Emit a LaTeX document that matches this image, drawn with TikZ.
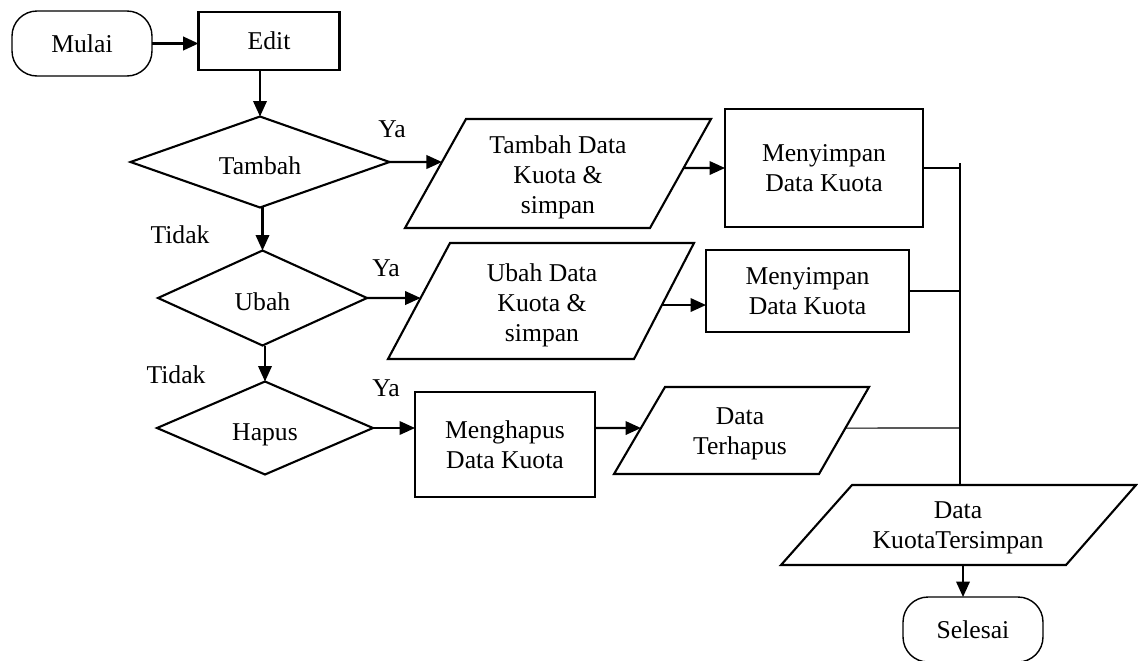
\documentclass[tikz,border=0pt]{standalone}
\usepackage{fontspec}
\setmainfont{Liberation Serif}
\usetikzlibrary{shapes.geometric,arrows.meta,calc}

\begin{document}
\begin{tikzpicture}[x=0.02cm,y=-0.02cm,
  font=\fontsize{14.6pt}{17pt}\selectfont,
  every node/.style={inner sep=0pt, outer sep=0pt},
  terminal/.style={draw, line width=0.8pt, rounded corners=0.5cm,
    minimum width=2.8cm, minimum height=1.3cm},
  procbox/.style={draw, line width=1.25pt, align=center},
  decision/.style={draw, diamond, aspect=2.5, line width=1.2pt, text height=0.5cm, text depth=0pt},
  txt/.style={align=center},
  iobox/.style={draw, line width=1.2pt, line join=miter},
  arr/.style={line width=1.2pt, -{Triangle[length=0.31cm,width=0.27cm]}},
  bus/.style={line width=0.6pt},
  lbl/.style={}
]
\path[use as bounding box, fill=white] (0,0) rectangle (1138,660);

% start, edit and the three decisions
\node[terminal] (mulai) at (82,43.5) {Mulai};
\node[procbox, minimum width=2.82cm, minimum height=1.16cm] (edit) at (269,41) {Edit};
\node[decision, minimum width=5.18cm, minimum height=1.82cm] (tambah) at (260,162) {Tambah};
\node[decision, minimum width=4.18cm, minimum height=1.9cm] (ubah) at (262.5,298) {Ubah};
\node[decision, minimum width=4.32cm, minimum height=1.86cm] (hapus) at (265,428) {Hapus};

% input/output parallelograms
\coordinate (td-tl) at (466,119); \coordinate (td-tr) at (711,119);
\coordinate (td-br) at (650,228); \coordinate (td-bl) at (405,228);
\draw[iobox] (td-tl) -- (td-tr) -- (td-br) -- (td-bl) -- cycle;
\node[txt] (tdata) at (558,177) {Tambah Data\\Kuota \&\\simpan};

\coordinate (ud-tl) at (450,243); \coordinate (ud-tr) at (694,243);
\coordinate (ud-br) at (634,359); \coordinate (ud-bl) at (388,359);
\draw[iobox] (ud-tl) -- (ud-tr) -- (ud-br) -- (ud-bl) -- cycle;
\node[txt] (udata) at (542,305) {Ubah Data\\Kuota \&\\simpan};

\coordinate (dt-tl) at (665,387); \coordinate (dt-tr) at (869,387);
\coordinate (dt-br) at (819,474); \coordinate (dt-bl) at (614,474);
\draw[iobox] (dt-tl) -- (dt-tr) -- (dt-br) -- (dt-bl) -- cycle;
\node[txt] (dterhapus) at (740,434) {Data\\Terhapus};

\coordinate (dk-tl) at (852,485); \coordinate (dk-tr) at (1136,485);
\coordinate (dk-br) at (1066,565); \coordinate (dk-bl) at (781,565);
\draw[iobox] (dk-tl) -- (dk-tr) -- (dk-br) -- (dk-bl) -- cycle;
\node[txt] (dks) at (958,528) {Data\\KuotaTersimpan};

% process boxes
\node[procbox, minimum width=3.96cm, minimum height=2.36cm] (men1) at (824,168) {Menyimpan\\Data Kuota};
\node[procbox, minimum width=4.06cm, minimum height=1.64cm] (men2) at (807.5,291) {Menyimpan\\Data Kuota};
\node[procbox, minimum width=3.6cm, minimum height=2.1cm] (meng) at (505,444.5) {Menghapus\\Data Kuota};

% end
\node[terminal] (selesai) at (973,629.5) {Selesai};

% branch labels
\node[lbl] (ya1) at (392,129) {Ya};
\node[lbl] (ya2) at (386,268) {Ya};
\node[lbl] (ya3) at (386,388) {Ya};
\node[lbl] (tidak1) at (180,235) {Tidak};
\node[lbl] (tidak2) at (176,375) {Tidak};

% main flow
\draw[arr, line width=1.5pt] (mulai.east) -- (mulai.east -| edit.west);
\draw[arr] (edit.south -| tambah.north) -- (tambah.north);
\draw[arr] (tambah.south -| ubah.north) -- (ubah.north);
\draw[arr] (ubah.south -| hapus.north) -- (hapus.north);

% Ya branches
\draw[arr] (tambah.east) -- (intersection cs: first line={(tambah.west)--(tambah.east)},
  second line={(td-tl)--(td-bl)});
\draw[arr] (intersection cs: first line={(men1.west)--(men1.east)},
  second line={(td-tr)--(td-br)}) -- (men1.west);

\draw[arr] (ubah.east) -- (intersection cs: first line={(ubah.west)--(ubah.east)},
  second line={(ud-tl)--(ud-bl)});
\coordinate (ud-out) at (intersection cs: first line={(udata.west)--(udata.east)},
  second line={(ud-tr)--(ud-br)});
\draw[arr] (ud-out) -- (ud-out -| men2.west);

\draw[arr] (hapus.east) -- (hapus.east -| meng.west);
\draw[arr] (meng.east |- hapus.east) -- (intersection cs: first line={(hapus.west)--(hapus.east)},
  second line={(dt-tl)--(dt-bl)});

% collecting line to the stored-data output
\coordinate (bus-top) at (960,163);
\coordinate (bus-end) at (960,485);
\draw[bus] (bus-top) -- (bus-end);
\draw[bus] (men1.east) -- (men1.east -| bus-top);
\draw[bus] (men2.east) -- (men2.east -| bus-top);
\draw[bus] (intersection cs: first line={(hapus.west)--(hapus.east)},
  second line={(dt-tr)--(dt-br)}) -- (hapus.east -| bus-top);

\coordinate (dks-out) at (963,565);
\draw[arr] (dks-out) -- (dks-out |- selesai.north);
\end{tikzpicture}
\end{document}
